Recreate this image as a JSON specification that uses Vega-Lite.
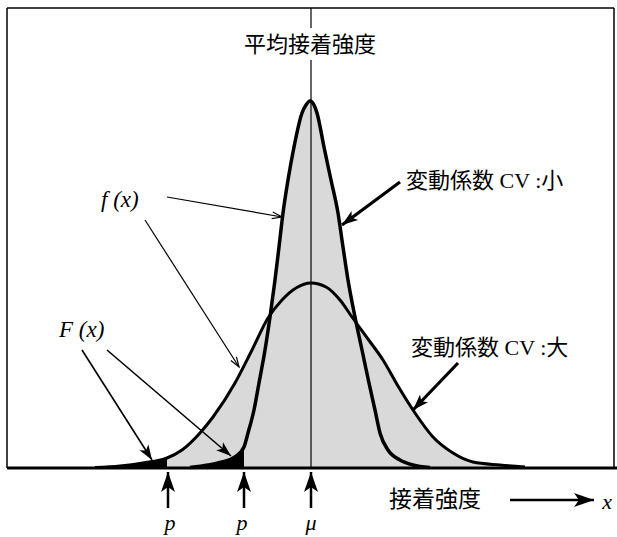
{
  "$schema": "https://vega.github.io/schema/vega-lite/v6.json",
  "width": 617,
  "height": 537,
  "padding": 0,
  "autosize": {"type": "none"},
  "background": "white",
  "config": {"view": {"stroke": null}},
  "datasets": {
    "wide": [
      {"x": 95, "y": 0.5}, {"x": 120, "y": 2}, {"x": 143, "y": 5}, {"x": 167, "y": 10}, {"x": 182, "y": 18},
      {"x": 200, "y": 35}, {"x": 213, "y": 51}, {"x": 235, "y": 85}, {"x": 252, "y": 118}, {"x": 268, "y": 150},
      {"x": 282, "y": 168}, {"x": 296, "y": 180}, {"x": 311, "y": 185}, {"x": 326, "y": 181}, {"x": 340, "y": 168},
      {"x": 352, "y": 151}, {"x": 368, "y": 129}, {"x": 383, "y": 108}, {"x": 398, "y": 82}, {"x": 413, "y": 58},
      {"x": 433, "y": 31}, {"x": 453, "y": 15}, {"x": 473, "y": 6}, {"x": 500, "y": 3}, {"x": 525, "y": 1}
    ],
    "narrow": [
      {"x": 190, "y": 0.5}, {"x": 208, "y": 3}, {"x": 222, "y": 6}, {"x": 235, "y": 11}, {"x": 244, "y": 21},
      {"x": 248, "y": 35}, {"x": 254, "y": 58}, {"x": 259, "y": 85}, {"x": 265, "y": 118}, {"x": 270, "y": 151},
      {"x": 275, "y": 188}, {"x": 279, "y": 221}, {"x": 283, "y": 255}, {"x": 288, "y": 288}, {"x": 294, "y": 321},
      {"x": 302, "y": 355}, {"x": 306, "y": 363}, {"x": 310, "y": 367}, {"x": 314, "y": 363}, {"x": 317, "y": 355},
      {"x": 324, "y": 321}, {"x": 331, "y": 288}, {"x": 338, "y": 255}, {"x": 343, "y": 221}, {"x": 348, "y": 188},
      {"x": 355, "y": 151}, {"x": 362, "y": 118}, {"x": 369, "y": 85}, {"x": 375, "y": 58}, {"x": 380, "y": 35},
      {"x": 388, "y": 18}, {"x": 400, "y": 8}, {"x": 413, "y": 3}, {"x": 430, "y": 0.5}
    ],
    "segments": [
      {"kind": "frame", "x": 7, "y": 0, "x2": 7, "y2": 460},
      {"kind": "frame", "x": 7, "y": 460, "x2": 614, "y2": 460},
      {"kind": "frame", "x": 614, "y": 460, "x2": 614, "y2": 0},
      {"kind": "base", "x": 7, "y": 0, "x2": 617, "y2": 0},
      {"kind": "mu", "x": 311, "y": 0, "x2": 311, "y2": 408},
      {"kind": "mu", "x": 311, "y": 440, "x2": 311, "y2": 460},
      {"kind": "thin", "x": 167, "y": 271, "x2": 282, "y2": 251},
      {"kind": "thin", "x": 145, "y": 248, "x2": 239, "y2": 101},
      {"kind": "med", "x": 82, "y": 118, "x2": 152, "y2": 8},
      {"kind": "med", "x": 107, "y": 118, "x2": 231, "y2": 12},
      {"kind": "thick", "x": 400, "y": 286, "x2": 342, "y2": 243},
      {"kind": "thick", "x": 458, "y": 105, "x2": 413, "y2": 58},
      {"kind": "big", "x": 510, "y": -32, "x2": 594, "y2": -32},
      {"kind": "big", "x": 168, "y": -40, "x2": 168, "y2": -4},
      {"kind": "big", "x": 244, "y": -40, "x2": 244, "y2": -4},
      {"kind": "big", "x": 311, "y": -40, "x2": 311, "y2": -4}
    ],
    "labels": [
      {"text": "平均接着強度", "x": 310, "y": 423, "style": "title"},
      {"text": "変動係数 CV :小", "x": 406, "y": 287, "style": "cv"},
      {"text": "変動係数 CV :大", "x": 411, "y": 120, "style": "cv"},
      {"text": "f (x)", "x": 101, "y": 268, "style": "fx"},
      {"text": "F (x)", "x": 59, "y": 138, "style": "fx"},
      {"text": "接着強度", "x": 435, "y": -32, "style": "axis"},
      {"text": "x", "x": 607, "y": -34, "style": "var"},
      {"text": "p", "x": 170, "y": -55, "style": "var"},
      {"text": "p", "x": 242, "y": -55, "style": "var"},
      {"text": "μ", "x": 311, "y": -55, "style": "var"}
    ]
  },
  "encoding": {
    "x": {"field": "x", "type": "quantitative", "scale": {"domain": [0, 617], "nice": false, "zero": false}, "axis": null},
    "y": {"field": "y", "type": "quantitative", "scale": {"domain": [-69, 468], "nice": false, "zero": false}, "axis": null}
  },
  "layer": [
    {"data": {"name": "wide"}, "mark": {"type": "area", "color": "#d9d9d9", "interpolate": "monotone"}, "encoding": {"y2": {"datum": 0}}},
    {"data": {"name": "narrow"}, "mark": {"type": "area", "color": "#d9d9d9", "interpolate": "monotone"}, "encoding": {"y2": {"datum": 0}}},
    {"data": {"name": "wide"}, "transform": [{"filter": "datum.x <= 167"}], "mark": {"type": "area", "color": "black", "interpolate": "monotone"}, "encoding": {"y2": {"datum": 0}}},
    {"data": {"name": "narrow"}, "transform": [{"filter": "datum.x <= 244"}], "mark": {"type": "area", "color": "black", "interpolate": "monotone"}, "encoding": {"y2": {"datum": 0}}},
    {"data": {"name": "segments"}, "transform": [{"filter": "datum.kind === 'mu'"}], "mark": {"type": "rule", "color": "black", "strokeWidth": 1.2}, "encoding": {"x2": {"field": "x2"}, "y2": {"field": "y2"}}},
    {"data": {"name": "wide"}, "mark": {"type": "line", "color": "black", "strokeWidth": 3, "interpolate": "monotone"}, "encoding": {}},
    {"data": {"name": "narrow"}, "mark": {"type": "line", "color": "black", "strokeWidth": 3.5, "interpolate": "monotone"}, "encoding": {}},
    {"data": {"name": "segments"}, "transform": [{"filter": "datum.kind === 'base'"}], "mark": {"type": "rule", "color": "black", "strokeWidth": 3}, "encoding": {"x2": {"field": "x2"}, "y2": {"field": "y2"}}},
    {"data": {"name": "segments"}, "transform": [{"filter": "datum.kind === 'frame'"}], "mark": {"type": "rule", "color": "black", "strokeWidth": 1.5}, "encoding": {"x2": {"field": "x2"}, "y2": {"field": "y2"}}},
    {"data": {"name": "segments"}, "transform": [{"filter": "datum.kind === 'thin'"}], "mark": {"type": "rule", "color": "black", "strokeWidth": 1.2}, "encoding": {"x2": {"field": "x2"}, "y2": {"field": "y2"}}},
    {"data": {"name": "segments"}, "transform": [{"filter": "datum.kind === 'med'"}], "mark": {"type": "rule", "color": "black", "strokeWidth": 1.6}, "encoding": {"x2": {"field": "x2"}, "y2": {"field": "y2"}}},
    {"data": {"name": "segments"}, "transform": [{"filter": "datum.kind === 'thick'"}], "mark": {"type": "rule", "color": "black", "strokeWidth": 3.2}, "encoding": {"x2": {"field": "x2"}, "y2": {"field": "y2"}}},
    {"data": {"name": "segments"}, "transform": [{"filter": "datum.kind === 'big'"}], "mark": {"type": "rule", "color": "black", "strokeWidth": 2.5}, "encoding": {"x2": {"field": "x2"}, "y2": {"field": "y2"}}},
    {"data": {"name": "segments"}, "transform": [{"filter": "datum.kind === 'thin'"}, {"calculate": "atan2(datum.x2 - datum.x, datum.y2 - datum.y) * 180 / PI", "as": "ang"}],
     "mark": {"type": "point", "shape": "M-0.6,1.8 L0,0 L0.6,1.8", "filled": false, "color": "black", "strokeWidth": 1.2, "opacity": 1, "size": 121},
     "encoding": {"x": {"field": "x2", "type": "quantitative"}, "y": {"field": "y2", "type": "quantitative"}, "angle": {"field": "ang", "type": "quantitative", "scale": null}}},
    {"data": {"name": "segments"}, "transform": [{"filter": "datum.kind === 'med'"}, {"calculate": "atan2(datum.x2 - datum.x, datum.y2 - datum.y) * 180 / PI", "as": "ang"}],
     "mark": {"type": "point", "shape": "M0,0 L0.7,2 L0,1.5 L-0.7,2 Z", "filled": true, "color": "black", "strokeWidth": 0, "opacity": 1, "size": 225},
     "encoding": {"x": {"field": "x2", "type": "quantitative"}, "y": {"field": "y2", "type": "quantitative"}, "angle": {"field": "ang", "type": "quantitative", "scale": null}}},
    {"data": {"name": "segments"}, "transform": [{"filter": "datum.kind === 'thick'"}, {"calculate": "atan2(datum.x2 - datum.x, datum.y2 - datum.y) * 180 / PI", "as": "ang"}],
     "mark": {"type": "point", "shape": "M0,0 L0.7,2 L0,1.5 L-0.7,2 Z", "filled": true, "color": "black", "strokeWidth": 0, "opacity": 1, "size": 256},
     "encoding": {"x": {"field": "x2", "type": "quantitative"}, "y": {"field": "y2", "type": "quantitative"}, "angle": {"field": "ang", "type": "quantitative", "scale": null}}},
    {"data": {"name": "segments"}, "transform": [{"filter": "datum.kind === 'big'"}, {"calculate": "atan2(datum.x2 - datum.x, datum.y2 - datum.y) * 180 / PI", "as": "ang"}],
     "mark": {"type": "point", "shape": "M0,0 L0.7,2 L0,1.5 L-0.7,2 Z", "filled": true, "color": "black", "strokeWidth": 0, "opacity": 1, "size": 400},
     "encoding": {"x": {"field": "x2", "type": "quantitative"}, "y": {"field": "y2", "type": "quantitative"}, "angle": {"field": "ang", "type": "quantitative", "scale": null}}},
    {"data": {"name": "labels"}, "transform": [{"filter": "datum.style === 'title'"}], "mark": {"type": "text", "font": "Noto Sans CJK JP", "fontSize": 22, "align": "center", "baseline": "middle", "color": "black"}, "encoding": {"text": {"field": "text"}}},
    {"data": {"name": "labels"}, "transform": [{"filter": "datum.style === 'cv'"}], "mark": {"type": "text", "font": "Liberation Serif, Noto Sans CJK JP", "fontSize": 22, "align": "left", "baseline": "middle", "color": "black"}, "encoding": {"text": {"field": "text"}}},
    {"data": {"name": "labels"}, "transform": [{"filter": "datum.style === 'fx'"}], "mark": {"type": "text", "font": "Liberation Serif", "fontStyle": "italic", "fontSize": 23, "align": "left", "baseline": "middle", "color": "black"}, "encoding": {"text": {"field": "text"}}},
    {"data": {"name": "labels"}, "transform": [{"filter": "datum.style === 'axis'"}], "mark": {"type": "text", "font": "Noto Sans CJK JP", "fontSize": 23, "align": "center", "baseline": "middle", "color": "black"}, "encoding": {"text": {"field": "text"}}},
    {"data": {"name": "labels"}, "transform": [{"filter": "datum.style === 'var'"}], "mark": {"type": "text", "font": "Liberation Serif", "fontStyle": "italic", "fontSize": 22, "align": "center", "baseline": "middle", "color": "black"}, "encoding": {"text": {"field": "text"}}}
  ]
}
